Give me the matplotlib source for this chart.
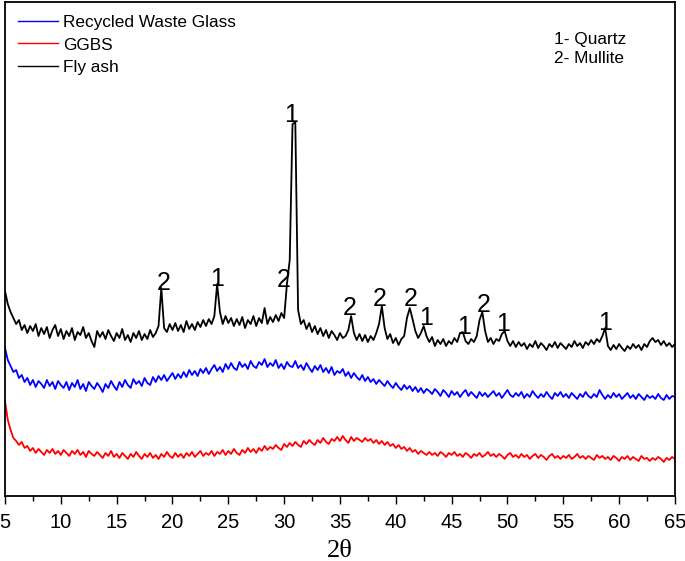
import numpy as np
import matplotlib
matplotlib.use('Agg')
import matplotlib.pyplot as plt
from matplotlib.ticker import MultipleLocator

plt.rcParams['font.family'] = ['Liberation Sans', 'DejaVu Sans']

# intensity readings (arbitrary units), every 0.25 degree from 5 to 65
fly_ash = [
    205, 192, 184, 178, 172, 176, 166, 171,
    163, 170, 165, 172, 160, 168, 162, 169,
    158, 166, 171, 160, 167, 157, 165, 160,
    168, 156, 164, 161, 169, 158, 163, 155,
    149, 165, 159, 164, 157, 166, 160, 155,
    163, 158, 167, 156, 161, 154, 163, 158,
    165, 156, 162, 157, 166, 159, 163, 170,
    208, 168, 164, 172, 166, 173, 165, 171,
    164, 175, 167, 172, 166, 174, 169, 176,
    170, 177, 172, 180, 212, 184, 172, 180,
    173, 178, 170, 177, 171, 179, 168, 176,
    172, 180, 170, 178, 173, 188, 172, 179,
    174, 181, 175, 183, 178, 212, 236, 372,
    374, 186, 172, 176, 167, 173, 164, 170,
    162, 168, 160, 166, 158, 165, 161, 156,
    163, 158, 160, 166, 180, 163, 156, 162,
    155, 161, 154, 160, 156, 163, 172, 190,
    168, 157, 162, 153, 158, 151, 157, 160,
    178, 188, 177, 165, 158, 163, 170, 160,
    154, 159, 150, 156, 152, 157, 150, 155,
    152, 158, 154, 163, 164, 155, 152, 157,
    154, 160, 176, 184, 165, 154, 158, 152,
    157, 155, 162, 165, 155, 150, 155, 149,
    154, 150, 153, 147, 152, 149, 155, 148,
    153, 150, 146, 152, 149, 154, 148, 153,
    150, 147, 152, 149, 155, 150, 153, 148,
    154, 151, 156, 152, 157, 154, 160, 168,
    150, 146, 151, 147, 152, 148, 145, 150,
    147, 152, 148, 151, 146, 152, 149, 155,
    158, 154, 156, 151, 155, 150, 153, 149,
    152]

glass = [
    148, 136, 130, 124, 126, 118, 121, 114,
    118, 111, 116, 109, 115, 112, 108, 116,
    110, 114, 107, 115, 111, 108, 114, 106,
    113, 109, 116, 107, 112, 105, 114, 110,
    107, 113, 109, 104, 112, 108, 115, 110,
    106, 114, 109, 116, 111, 108, 117, 112,
    115, 110, 118, 113, 111, 119, 114, 120,
    116, 121, 115, 119, 123, 117, 122, 118,
    124, 119, 126, 121, 125, 120, 127, 123,
    128, 122, 127, 131, 125, 129, 124, 132,
    127, 133, 128, 126, 134, 129, 132, 127,
    135, 130, 128, 134, 131, 137, 129, 133,
    130, 136, 128, 132, 127, 134, 130, 129,
    135, 128, 131, 126, 133, 128, 124, 130,
    126, 131, 124, 128, 123, 129, 121, 125,
    123, 127, 120, 124, 118, 123, 119, 116,
    121, 115, 119, 114, 117, 112, 116, 113,
    110, 115, 111, 108, 113, 109, 106, 111,
    107, 110, 105, 109, 104, 108, 103, 107,
    105, 102, 107, 104, 100, 106, 103, 99,
    105, 101, 104, 99, 103, 106, 100, 104,
    101, 98, 104, 100, 103, 99, 102, 105,
    100, 103, 98, 102, 106, 101, 99, 103,
    100, 104, 98, 102, 99, 105, 101, 98,
    102, 99, 104, 100, 97, 103, 100, 104,
    99, 102, 98, 103, 100, 97, 102, 99,
    104, 100, 98, 102, 99, 106, 101, 97,
    101, 98, 103, 99, 102, 97, 100, 103,
    98, 101, 97, 102, 99, 96, 101, 98,
    100, 97, 102, 98, 96, 101, 97, 100,
    99]

ggbs = [
    95, 76, 66, 58, 55, 51, 54, 48,
    50, 45, 48, 43, 47, 44, 41, 46,
    43, 47, 42, 45, 41, 46, 43, 40,
    45, 42, 46, 41, 44, 39, 45, 42,
    40, 44, 41, 38, 43, 40, 45, 39,
    42, 38, 43, 40, 37, 42, 39, 44,
    40, 37, 42, 39, 43, 38, 41, 37,
    42, 39, 44, 40, 38, 43, 39, 42,
    38, 43, 40, 44, 39, 42, 45, 40,
    43, 41, 45, 40, 44, 42, 46, 41,
    45, 42, 47, 43, 41, 46, 43, 48,
    44, 47, 43, 48, 45, 50, 46, 49,
    47, 51, 48, 46, 52, 49, 53, 50,
    54, 51, 49, 55, 52, 56, 53, 51,
    56, 53, 58, 54, 52, 57, 55, 59,
    55, 60, 56, 53, 59, 55, 58, 56,
    54, 58, 55, 57, 53, 56, 52, 55,
    51, 54, 50, 52, 48, 51, 47, 49,
    45, 48, 44, 46, 42, 45, 43, 41,
    44, 41, 43, 40, 44, 42, 39, 43,
    41, 44, 40, 42, 39, 43, 41, 38,
    42, 40, 43, 39, 41, 44, 40, 42,
    39, 42, 40, 37, 41, 43, 39, 41,
    38, 42, 39, 41, 37, 40, 42, 38,
    41, 39, 36, 40, 42, 38, 40, 37,
    40, 38, 41, 37, 39, 42, 38, 40,
    37, 40, 38, 36, 41, 38, 40, 37,
    39, 36, 40, 38, 35, 39, 37, 40,
    36, 39, 37, 35, 40, 37, 38, 35,
    38, 36, 39, 37, 34, 38, 36, 39,
    37]

# peak marks: 1 = quartz, 2 = mullite
peak_labels = ['2', '1', '2', '1', '2', '2', '2', '1', '1', '2', '1', '1']
peak_pos = [19.2, 24.0, 30.0, 30.6, 35.9, 38.6, 41.3, 42.7, 46.1, 47.9, 49.6, 58.7]
peak_height = [213, 217, 216, 381, 188, 197, 197, 178, 169, 191, 172, 173]

two_theta = np.linspace(5, 65, len(fly_ash))

fig = plt.figure(figsize=(6.85, 5.61), dpi=100)
ax = fig.add_axes([0.0073, 0.116, 0.978, 0.88])

ax.plot(two_theta, glass, color='#0000ff', lw=1.3, label='Recycled Waste Glass')
ax.plot(two_theta, ggbs, color='#ff0000', lw=1.3, label='GGBS')
ax.plot(two_theta, fly_ash, color='black', lw=1.3, label='Fly ash')

for lab, px, py in zip(peak_labels, peak_pos, peak_height):
    ax.text(px, py, lab, fontsize=18, ha='center', va='center')

ax.text(0.82, 0.925, '1- Quartz', transform=ax.transAxes, fontsize=12.4, va='center')
ax.text(0.82, 0.887, '2- Mullite', transform=ax.transAxes, fontsize=12.4, va='center')

leg = ax.legend(loc='upper left', bbox_to_anchor=(0.0, 1.0), frameon=False, fontsize=12.4,
                handlelength=2.3, handletextpad=0.3, labelspacing=0.42, borderaxespad=0.45,
                borderpad=0.3)
for line in leg.get_lines():
    line.set_linewidth(1.0)

ax.set_xlim(5, 65)
ax.set_ylim(0, 494)
ax.set_yticks([])
ax.xaxis.set_major_locator(MultipleLocator(5))
ax.xaxis.set_minor_locator(MultipleLocator(2.5))
ax.tick_params(axis='x', which='major', direction='out', length=6, width=1, labelsize=14.5, pad=6)
ax.tick_params(axis='x', which='minor', direction='out', length=3.5, width=1)
for s in ax.spines.values():
    s.set_linewidth(1.3)

ax.set_xlabel('2θ', fontsize=19, family=['Liberation Serif', 'DejaVu Serif'], labelpad=6)

fig.savefig('out.png', dpi=100)
